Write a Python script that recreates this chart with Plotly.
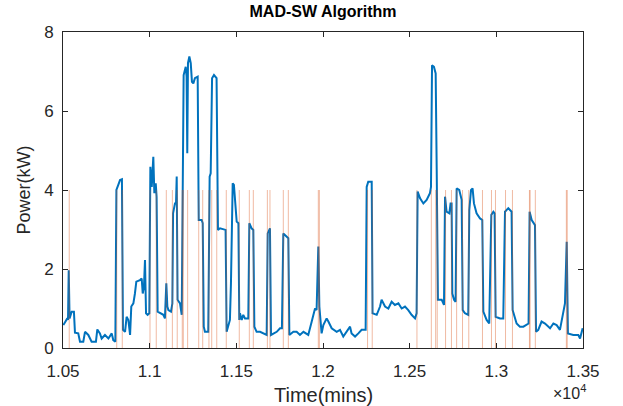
import plotly.graph_objects as go

# Aggregate power trace (time in minutes, power in kW)
time_min = [
    10502, 10512, 10525, 10529, 10533, 10538, 10550, 10563, 10569, 10588,
    10598, 10617, 10627, 10646, 10665, 10690, 10698, 10713, 10723, 10742,
    10762, 10781, 10790, 10802, 10808, 10819, 10829, 10840, 10846, 10858,
    10867, 10877, 10887, 10894, 10906, 10915, 10923, 10944, 10954, 10960,
    10967, 10973, 10979, 10988, 10998, 11004, 11012, 11021, 11027, 11035,
    11040, 11046, 11060, 11079, 11088, 11096, 11102, 11108, 11123, 11131,
    11135, 11146, 11152, 11156, 11161, 11175, 11185, 11190, 11196, 11208,
    11213, 11217, 11221, 11229, 11237, 11244, 11252, 11261, 11277, 11283,
    11300, 11306, 11312, 11319, 11338, 11346, 11352, 11360, 11371, 11386,
    11394, 11406, 11438, 11444, 11454, 11463, 11469, 11479, 11486, 11496,
    11502, 11512, 11517, 11521, 11531, 11540, 11550, 11569, 11575, 11588,
    11598, 11604, 11617, 11637, 11656, 11675, 11681, 11694, 11700, 11733,
    11752, 11763, 11771, 11790, 11800, 11806, 11829, 11848, 11867, 11887,
    11915, 11935, 11954, 11963, 11973, 11979, 11992, 12002, 12021, 12031,
    12050, 12079, 12098, 12117, 12136, 12156, 12165, 12185, 12204, 12223,
    12246, 12252, 12261, 12281, 12286, 12310, 12329, 12338, 12358, 12377,
    12396, 12415, 12435, 12454, 12473, 12492, 12511, 12531, 12540, 12546,
    12560, 12579, 12598, 12617, 12623, 12629, 12640, 12650, 12656, 12660,
    12663, 12685, 12698, 12704, 12713, 12729, 12736, 12742, 12746, 12756,
    12765, 12771, 12786, 12800, 12806, 12819, 12838, 12844, 12854, 12863,
    12871, 12886, 12906, 12919, 12925, 12944, 12959, 12971, 12983, 12990,
    12996, 13021, 13040, 13050, 13069, 13088, 13094, 13117, 13136, 13156,
    13175, 13186, 13192, 13204, 13223, 13229, 13242, 13261, 13281, 13310,
    13329, 13348, 13367, 13386, 13396, 13406, 13413, 13444, 13473, 13483,
    13492, 13498,
]
power_kw = [
    0.58, 0.67, 0.75, 0.71, 1.97, 0.75, 0.92, 0.92, 0.39, 0.37,
    0.16, 0.16, 0.41, 0.33, 0.16, 0.16, 0.47, 0.37, 0.24, 0.33,
    0.24, 0.37, 0.20, 0.16, 4.00, 4.13, 4.25, 4.27, 0.46, 0.41,
    0.79, 0.71, 0.33, 1.05, 1.13, 1.38, 1.68, 1.72, 1.76, 1.38,
    1.55, 2.23, 0.88, 0.84, 0.88, 4.59, 4.08, 4.84, 3.92, 4.17,
    3.83, 0.92, 0.88, 0.84, 0.75, 1.64, 1.05, 0.96, 0.92, 1.13,
    3.41, 3.66, 3.66, 4.34, 1.22, 1.13, 0.84, 3.58, 6.91, 7.12,
    6.87, 4.93, 7.21, 7.38, 7.21, 6.74, 6.70, 6.83, 6.87, 3.24,
    3.24, 3.16, 0.54, 0.41, 0.41, 4.34, 4.42, 6.83, 6.91, 6.83,
    2.99, 3.03, 2.99, 0.41, 0.54, 0.71, 1.64, 4.17, 4.13, 3.58,
    3.20, 3.16, 0.71, 0.88, 0.71, 0.84, 0.75, 0.75, 3.16, 3.03,
    2.99, 0.54, 0.41, 0.41, 0.37, 0.33, 2.90, 3.03, 0.33, 0.41,
    0.50, 0.50, 2.90, 2.82, 2.78, 0.33, 0.41, 0.41, 0.33, 0.41,
    0.33, 0.67, 1.00, 0.96, 2.57, 1.05, 0.37, 0.58, 0.75, 0.67,
    0.50, 0.41, 0.46, 0.29, 0.41, 0.54, 0.37, 0.29, 0.37, 0.46,
    0.46, 4.08, 4.21, 4.21, 0.88, 0.84, 1.05, 1.22, 1.05, 1.00,
    1.17, 1.09, 1.13, 1.00, 1.05, 0.96, 0.84, 0.75, 0.88, 3.96,
    3.79, 3.66, 3.75, 3.92, 4.08, 7.16, 7.12, 6.95, 4.51, 3.24,
    1.22, 1.22, 1.09, 3.83, 3.45, 3.41, 3.66, 3.66, 1.38, 1.22,
    1.17, 4.04, 4.00, 3.75, 0.96, 0.88, 0.84, 3.49, 4.00, 4.04,
    3.66, 3.41, 3.28, 3.24, 0.92, 0.71, 0.62, 3.37, 3.45, 3.41,
    0.79, 0.75, 0.75, 3.45, 3.54, 3.45, 0.96, 0.62, 0.54, 0.54,
    0.58, 0.62, 3.45, 3.24, 3.11, 0.41, 0.46, 0.67, 0.62, 0.50,
    0.62, 0.58, 0.46, 0.88, 1.13, 2.69, 0.37, 0.33, 0.33, 0.24,
    0.46, 0.50,
]

# Detected switching events (minutes); drawn as markers of height 4 kW
event_min = [
    10536, 10810, 10842, 11002, 11038, 11096, 11131, 11159, 11188, 11194,
    11219, 11283, 11306, 11342, 11358, 11387, 11442, 11517, 11575, 11598,
    11679, 11694, 11771, 11800, 11973, 11979, 12257, 12284, 12542, 12625,
    12650, 12659, 12707, 12741, 12771, 12805, 12841, 12920, 12972, 12995,
    13053, 13093, 13191, 13195, 13225, 13404, 13409,
]
event_height = 4

x_ticks = [10500, 11000, 11500, 12000, 12500, 13000, 13500]
x_tick_text = ["1.05", "1.1", "1.15", "1.2", "1.25", "1.3", "1.35"]
y_ticks = [0, 2, 4, 6, 8]

ev_x, ev_y = [], []
for t in event_min:
    ev_x += [t, t, None]
    ev_y += [0, event_height, None]

FONT = "Liberation Sans, Arial, Helvetica, sans-serif"
AX = "#262626"

fig = go.Figure()
fig.add_trace(go.Scatter(
    x=time_min, y=power_kw, mode="lines",
    line=dict(color="#0072BD", width=2),
    hoverinfo="skip", showlegend=False,
))
fig.add_trace(go.Scatter(
    x=ev_x, y=ev_y, mode="lines",
    line=dict(color="rgba(217,83,25,0.4)", width=1),
    hoverinfo="skip", showlegend=False,
))

axis_common = dict(
    showline=True, linecolor=AX, linewidth=1, mirror="ticks",
    ticks="inside", ticklen=5, tickcolor=AX, tickwidth=1,
    showgrid=False, zeroline=False, automargin=False,
    tickfont=dict(family=FONT, size=17, color=AX),
)

fig.update_layout(
    width=623, height=406,
    margin=dict(l=63, r=40, t=32, b=58),
    paper_bgcolor="white", plot_bgcolor="white",
    title=dict(
        text="<b>MAD-SW Algorithm</b>",
        x=0.5, xref="paper", xanchor="center",
        y=1, yref="container", yanchor="top", pad=dict(t=6),
        font=dict(family=FONT, size=16, color="black"),
    ),
    xaxis=dict(
        range=[10500, 13500], tickvals=x_ticks, ticktext=x_tick_text,
        ticklabelstandoff=8,
        **axis_common,
    ),
    yaxis=dict(
        range=[0, 8], tickvals=y_ticks, ticklabelstandoff=5,
        title=dict(text="Power(kW)", standoff=8,
                   font=dict(family=FONT, size=18, color=AX)),
        **axis_common,
    ),
    annotations=[
        dict(
            text="Time(mins)", x=0.5, xref="paper", xanchor="center",
            y=-0.148, yref="paper", yanchor="middle", showarrow=False,
            font=dict(family=FONT, size=20, color=AX),
        ),
        dict(
            text="×10<sup>4</sup>", x=1.01, xref="paper", xanchor="right",
            y=-0.138, yref="paper", yanchor="middle", showarrow=False,
            font=dict(family=FONT, size=16, color=AX),
        ),
    ],
)

fig.write_html("out.html")
